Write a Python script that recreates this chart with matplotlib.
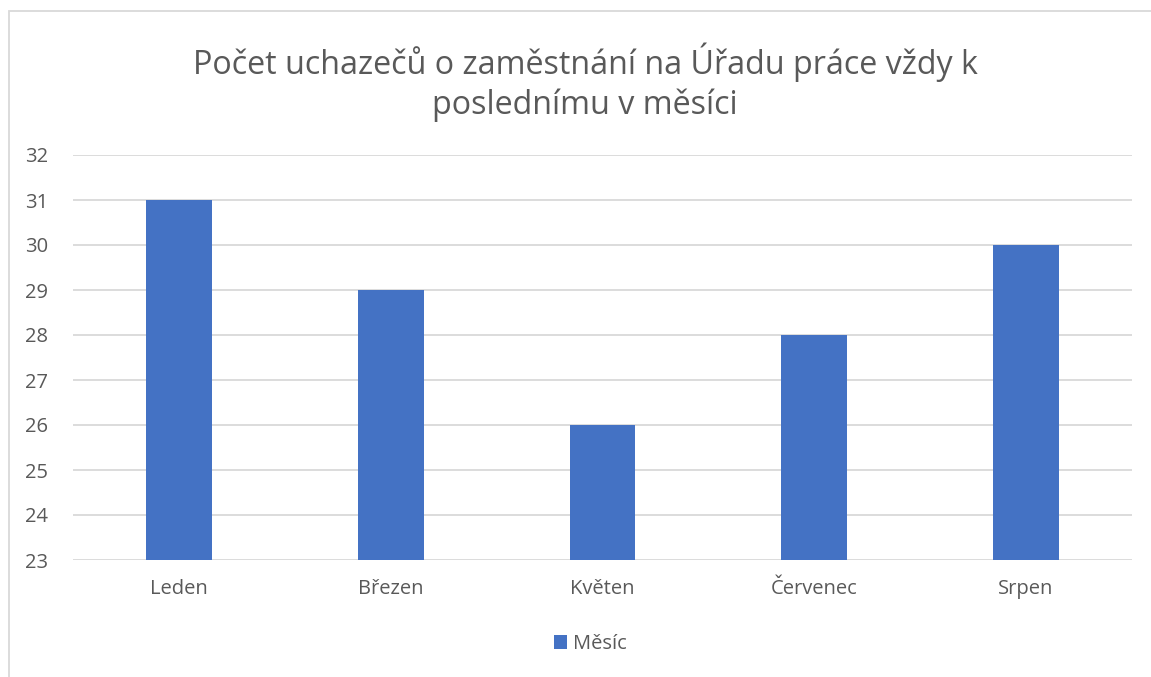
import matplotlib
matplotlib.use("Agg")
import matplotlib.pyplot as plt
from matplotlib.patches import Rectangle, Patch

categories = ["Leden", "Březen", "Květen", "Červenec", "Srpen"]
values = [31, 29, 26, 28, 30]
series_name = "Měsíc"
title = "Počet uchazečů o zaměstnání na Úřadu práce vždy k\nposlednímu v měsíci"
yticks = list(range(23, 33))

plt.rcParams['font.family'] = ['Open Sans', 'DejaVu Sans']
W, H = 1151, 677
fig = plt.figure(figsize=(W/100, H/100), dpi=100)
ax = fig.add_axes([73/W, 1-560/H, (1132-73)/W, (560-155)/H])

x = list(range(len(categories)))
ax.bar(x, [v - 23 for v in values], bottom=23, width=0.31, color="#4472C4", zorder=3, label=series_name)
ax.set_xlim(-0.5, len(categories)-0.5)
ax.set_ylim(23, 32)
ax.set_yticks(yticks)
ax.set_yticklabels([str(t) for t in yticks])
ax.set_xticks(x)
ax.set_xticklabels(categories)
ax.tick_params(axis='both', length=0, labelsize=14.5, colors="#595959")
ax.tick_params(axis='y', pad=18)
ax.tick_params(axis='x', pad=14)
ax.grid(axis='y', color="#D9D9D9", linewidth=1.3, zorder=0)
for s in ax.spines.values():
    s.set_visible(False)

fig.text(585/W, 1-82/H, title, ha='center', va='center', fontsize=23.2, color="#595959", linespacing=1.25)

handles = [Patch(facecolor="#4472C4", label=series_name)]
fig.legend(handles=handles, loc='center', bbox_to_anchor=(590/W, 1-644/H), frameon=False,
           fontsize=14.5, labelcolor="#595959", handlelength=0.65, handleheight=0.65, handletextpad=0.3)

fig.patches.append(Rectangle((9/W, -0.1), 1.2, 1.1-11/H, transform=fig.transFigure,
                             fill=False, edgecolor="#D9D9D9", linewidth=1.3))

fig.savefig("out.png", dpi=100, facecolor="white")
